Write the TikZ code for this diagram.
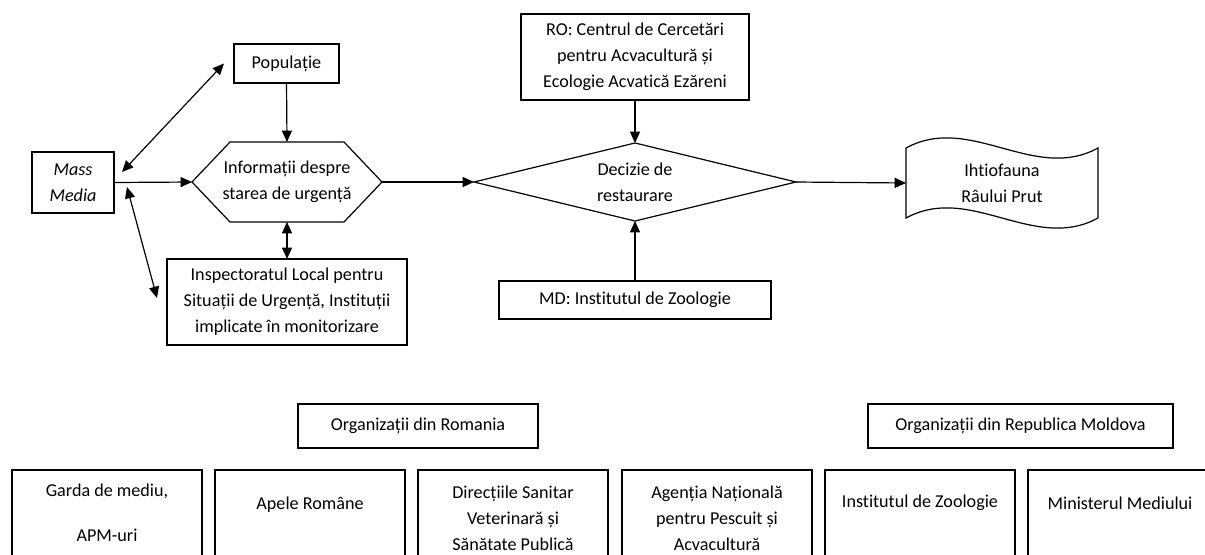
\documentclass[tikz,border=0pt]{standalone}
\usepackage{fontspec}
\setmainfont{Carlito}[Ligatures=NoCommon]
\usetikzlibrary{arrows.meta,calc}
\tikzset{
  lbl/.style={font=\fontsize{13.6}{19.5}\selectfont, align=center, inner sep=0pt, outer sep=0pt},
  bx/.style 2 args={lbl, draw, line width=0.9pt, minimum width=#1*0.75pt, minimum height=#2*0.75pt},
  frame/.style 2 args={lbl, minimum width=#1*0.75pt, minimum height=#2*0.75pt},
  ln/.style={line width=0.9pt, line join=miter},
  arr/.style={line width=0.9pt, -{Triangle[length=8.5pt,width=7.5pt]}},
  dbl/.style={line width=0.9pt, {Triangle[length=8.5pt,width=7.5pt]}-{Triangle[length=8.5pt,width=7.5pt]}},
}
\begin{document}
\begin{tikzpicture}[x=0.75pt,y=-0.75pt]
\useasboundingbox (0,0) rectangle (1205,554);
\clip (0,0) rectangle (1205,554);

% top flow
\node[bx={82}{61}] (mm) at (73,182.5) {\itshape Mass\\\itshape Media};
\node[bx={105}{39}] (pop) at (286.5,63.5) {Populație};
\node[frame={190}{80}] (hex) at (287,182) {Informații despre\\starea de urgență};
\draw[ln] (hex.west) -- ($(hex.north west)+(38,0)$) -- ($(hex.north east)+(-38,0)$)
  -- (hex.east) -- ($(hex.south east)+(-38,0)$) -- ($(hex.south west)+(38,0)$) -- cycle;
\node[bx={240}{86}] (insp) at (287,302) {Inspectoratul Local pentru\\Situații de Urgență, Instituții\\implicate în monitorizare};
\node[bx={228}{86}] (ro) at (635,57) {RO: Centrul de Cercetări\\pentru Acvacultură și\\Ecologie Acvatică Ezăreni};
\node[frame={322}{78}] (dec) at (635,182) {Decizie de\\restaurare};
\draw[ln] (dec.west) -- (dec.north) -- (dec.east) -- (dec.south) -- cycle;
\node[bx={272}{38}] (md) at (635,300) {MD: Institutul de Zoologie};
\node[frame={192}{70}] (fauna) at (1002,183) {Ihtiofauna\\Râului Prut};
\draw[ln] (fauna.north west) .. controls +(64,-35) and +(-64,35) .. (fauna.north east)
  -- (fauna.south east) .. controls +(-64,35) and +(64,-35) .. (fauna.south west) -- cycle;

% connectors
\draw[dbl] ($(mm.east)+(8,-10.5)$) -- ($(pop.west)+(-10,0)$);
\draw[dbl] ($(mm.east)+(13,4.5)$) -- ($(insp.west)+(-10,-4)$);
\draw[arr] (mm.east) -- (hex.west);
\draw[arr] (pop.south) -- (hex.north);
\draw[dbl] (hex.south) -- (insp.north);
\draw[arr] (hex.east) -- (dec.west);
\draw[arr] (ro.south) -- (dec.north);
\draw[arr] (md.north) -- (dec.south);
\draw[arr] (dec.east) -- (fauna.west);

% organisations
\node[bx={240}{44}] (orgro) at (418,426) {Organizații din Romania};
\node[bx={305}{44}] (orgmd) at (1020.5,426) {Organizații din Republica Moldova};

\node[bx={190}{90}] (b1) at (107,515) {};
\node[bx={190}{90}] (b2) at (310,515) {};
\node[bx={190}{90}] (b3) at (513,515) {};
\node[bx={190}{90}] (b4) at (717,515) {};
\node[bx={190}{90}] (b5) at (920,515) {};
\node[bx={190}{90}] (b6) at (1123,515) {};

\node[lbl] (t1) at (107,513) {Garda de mediu,\\[14pt]APM-uri};
\node[lbl] (t2) at (310,505) {Apele Române};
\node[lbl] (t3) at (513,518) {Direcțiile Sanitar\\Veterinară și\\Sănătate Publică};
\node[lbl] (t4) at (717,518) {Agenția Națională\\pentru Pescuit și\\Acvacultură};
\node[lbl] (t5) at (920,503) {Institutul de Zoologie};
\node[lbl] (t6) at (1120,503) {Ministerul Mediului};
\end{tikzpicture}
\end{document}
